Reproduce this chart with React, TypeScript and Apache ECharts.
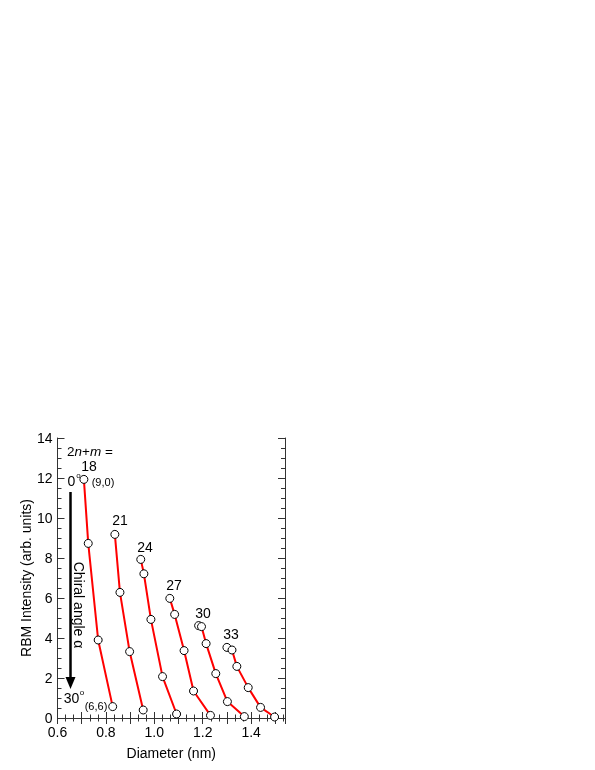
import React, { useEffect, useRef } from "react";
import * as echarts from "echarts";

const s18 = [[0.709, 11.93], [0.727, 8.73], [0.768, 3.9], [0.828, 0.57]];
const s21 = [[0.837, 9.18], [0.858, 6.28], [0.898, 3.32], [0.954, 0.4]];
const s24 = [[0.944, 7.93], [0.957, 7.21], [0.986, 4.93], [1.034, 2.07], [1.092, 0.2]];
const s27 = [[1.064, 5.98], [1.084, 5.18], [1.123, 3.37], [1.162, 1.35], [1.232, 0.13]];
const s30 = [[1.183, 4.62], [1.195, 4.57], [1.214, 3.72], [1.254, 2.22], [1.302, 0.82], [1.372, 0.07]];
const s33 = [[1.3, 3.53], [1.321, 3.4], [1.341, 2.58], [1.388, 1.52], [1.439, 0.53], [1.497, 0.05]];
const seriesNames = ["18", "21", "24", "27", "30", "33"];
const seriesData = [s18, s21, s24, s27, s30, s33];

const FONT = "Liberation Sans, Arial, Helvetica, sans-serif";

export default function App() {
  const ref = useRef<HTMLDivElement>(null);
  useEffect(() => {
    if (!ref.current) return;
    const chart = echarts.init(ref.current, null, { renderer: "svg" });
    const axisLine = { show: true, lineStyle: { color: "#333", width: 1 } };
    const xTick = { show: true, inside: true, length: 6, lineStyle: { color: "#333" } };
    const xMinor = { show: true, splitNumber: 3, length: 3.5, lineStyle: { color: "#333" } };
    const yTick = { show: true, inside: true, length: 7, lineStyle: { color: "#333" } };
    const yMinor = { show: true, splitNumber: 4, length: 4, lineStyle: { color: "#333" } };
    const txt = (x: number, y: number, text: string, size = 14, extra: any = {}) => ({
      type: "text",
      x,
      y,
      style: { text, font: `${size}px ${FONT}`, fill: "#000", textAlign: "center", textVerticalAlign: "middle", ...extra },
    });
    chart.setOption({
      animation: false,
      grid: { left: 57.5, right: 310, top: 438, bottom: 52 },
      xAxis: [
        {
          type: "value",
          min: 0.6,
          max: 1.54,
          interval: 0.1,
          position: "bottom",
          axisLine,
          axisTick: xTick,
          minorTick: xMinor,
          splitLine: { show: false },
          axisLabel: {
            color: "#000",
            fontSize: 14,
            fontFamily: FONT,
            margin: 7,
            showMaxLabel: false,
            formatter: (v: number) => (Math.round(v * 10) % 2 === 0 ? v.toFixed(1) : ""),
          },
          name: "Diameter (nm)",
          nameLocation: "middle",
          nameGap: 28,
          nameTextStyle: { color: "#000", fontSize: 14, fontFamily: FONT },
        },
        {
          type: "value",
          min: 0.6,
          max: 1.54,
          interval: 0.1,
          position: "top",
          axisLine,
          axisTick: xTick,
          minorTick: xMinor,
          splitLine: { show: false },
          axisLabel: { show: false },
        },
      ],
      yAxis: [
        {
          type: "value",
          min: 0,
          max: 14,
          interval: 2,
          position: "left",
          axisLine,
          axisTick: yTick,
          minorTick: yMinor,
          splitLine: { show: false },
          axisLabel: { color: "#000", fontSize: 14, fontFamily: FONT, margin: 5 },
          name: "RBM Intensity (arb. units)",
          nameLocation: "middle",
          nameGap: 25,
          nameTextStyle: { color: "#000", fontSize: 14, fontFamily: FONT },
        },
        {
          type: "value",
          min: 0,
          max: 14,
          interval: 2,
          position: "right",
          axisLine,
          axisTick: yTick,
          minorTick: yMinor,
          splitLine: { show: false },
          axisLabel: { show: false },
        },
      ],
      series: seriesData.map((d, i) => ({
        name: seriesNames[i],
        type: "line",
        data: d,
        xAxisIndex: 0,
        yAxisIndex: 0,
        symbol: "circle",
        symbolSize: 8,
        lineStyle: { color: "#ff0000", width: 2 },
        itemStyle: { color: "#fff", borderColor: "#000", borderWidth: 1 },
        z: 3,
      })),
      graphic: [
        {
          type: "text",
          x: 67,
          y: 451,
          style: {
            text: "{a|2}{i|n}{a|+}{i|m}{a| =}",
            font: `13.5px ${FONT}`,
            fill: "#000",
            textVerticalAlign: "middle",
            rich: {
              a: { fontSize: 13.5, fontFamily: FONT, fill: "#000" },
              i: { fontSize: 13.5, fontFamily: FONT, fontStyle: "italic", fill: "#000" },
            },
          },
        },
        txt(71.5, 481, "0", 14),
        txt(78.5, 475, "o", 8),
        txt(89, 466, "18", 14),
        txt(103, 482, "(9,0)", 11),
        txt(120, 520, "21", 14),
        txt(145, 547, "24", 14),
        txt(174, 585, "27", 14),
        txt(203, 613, "30", 14),
        txt(231, 634, "33", 14),
        txt(71.5, 698, "30", 14),
        txt(82, 692, "o", 8),
        txt(96, 706, "(6,6)", 11),
        {
          type: "text",
          x: 79,
          y: 605,
          rotation: -Math.PI / 2,
          style: { text: "Chiral angle α", font: `14px ${FONT}`, fill: "#000", textAlign: "center", textVerticalAlign: "middle" },
        },
        { type: "line", shape: { x1: 70.5, y1: 492, x2: 70.5, y2: 679 }, style: { stroke: "#000", lineWidth: 2.5 } },
        { type: "polygon", shape: { points: [[65.5, 677], [75.5, 677], [70.5, 689]] }, style: { fill: "#000" } },
      ],
    });
    return () => chart.dispose();
  }, []);
  return <div ref={ref} style={{ position: "fixed", left: 0, top: 0, width: 595, height: 770 }} />;
}
